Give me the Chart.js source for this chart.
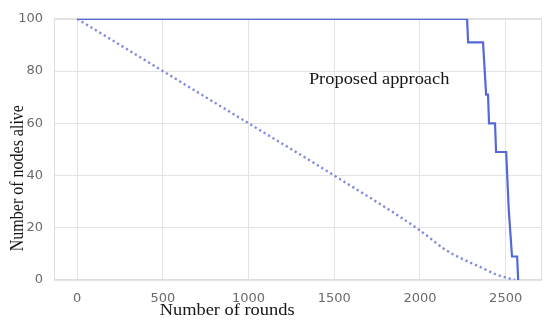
<!DOCTYPE html>
<html>
<head>
<meta charset="utf-8">
<script src="https://cdn.jsdelivr.net/npm/chart.js@4/dist/chart.umd.min.js"></script>
<style>
html,body{margin:0;padding:0;background:#fff;}
#wrap{width:550px;height:326px;position:relative;}
</style>
</head>
<body>
<div id="wrap"><canvas id="c" width="550" height="326"></canvas></div>
<script>
// Proposed approach (step curve), x = rounds, y = nodes alive
const proposedRounds = [0, 2275, 2281, 2368, 2386, 2397, 2403, 2438, 2444, 2503, 2518, 2537, 2567, 2573];
const proposedAlive  = [100, 100, 91, 91, 71, 71, 60, 60, 49, 49, 27, 9, 9, 0];
// Comparison protocol (dotted line)
const baselineRounds = [0, 500, 1000, 1500, 2000, 2150, 2250, 2350, 2450, 2555];
const baselineAlive  = [100, 80, 60, 40, 19, 11.5, 8, 5, 2, 0];
const xTicks = [0, 500, 1000, 1500, 2000, 2500];
const yTicks = [0, 20, 40, 60, 80, 100];
const xTitle = "Number of rounds";
const yTitle = "Number of nodes alive";
const annotation = "Proposed approach";

const toPts = (xs, ys) => xs.map((x, i) => ({x: x, y: ys[i]}));

const SERIF = '"Liberation Serif", "Times New Roman", serif';

const framePlugin = {
  id: 'frame',
  beforeDatasetsDraw(chart) {
    const a = chart.chartArea, ctx = chart.ctx;
    ctx.save();
    ctx.strokeStyle = '#dedede';
    ctx.lineWidth = 1;
    ctx.strokeRect(a.left + 0.5, a.top + 0.5, a.right - a.left - 1, a.bottom - a.top - 1);
    ctx.restore();
  },
  afterDraw(chart) {
    const ctx = chart.ctx;
    const xs = chart.scales.x, ys = chart.scales.y;
    const stretch = 1.15;
    const hText = (txt, cx, cy, align) => {
      ctx.save();
      ctx.translate(cx, cy);
      ctx.scale(stretch, 1);
      ctx.textAlign = align;
      ctx.textBaseline = 'middle';
      ctx.fillText(txt, 0, 0);
      ctx.restore();
    };
    ctx.save();
    ctx.fillStyle = '#151515';
    ctx.font = '16px ' + SERIF;
    // x axis title
    hText(xTitle, xs.getPixelForValue(875), 311, 'center');
    // annotation
    hText(annotation, xs.getPixelForValue(1352), ys.getPixelForValue(76.5), 'left');
    // y axis title
    ctx.save();
    ctx.translate(18, ys.getPixelForValue(39));
    ctx.rotate(-Math.PI / 2);
    ctx.scale(1, stretch);
    ctx.textAlign = 'center';
    ctx.textBaseline = 'middle';
    ctx.fillText(yTitle, 0, 0);
    ctx.restore();
    ctx.restore();
  }
};

const tickFont = { family: '"DejaVu Sans", Verdana, sans-serif', size: 13 };

new Chart(document.getElementById('c'), {
  type: 'line',
  data: {
    datasets: [
      {
        label: 'Proposed approach',
        data: toPts(proposedRounds, proposedAlive),
        borderColor: '#5468dc',
        borderWidth: 2.2,
        pointRadius: 0,
        tension: 0,
        fill: false,
        clip: 0
      },
      {
        label: 'Baseline',
        data: toPts(baselineRounds, baselineAlive),
        borderColor: '#7f8ae0',
        borderWidth: 2.4,
        borderDash: [2.2, 3],
        pointRadius: 0,
        tension: 0.3,
        cubicInterpolationMode: 'monotone',
        fill: false,
        clip: 0
      }
    ]
  },
  options: {
    responsive: false,
    animation: false,
    events: [],
    layout: { padding: { top: 13, right: 8, left: 0, bottom: 0 } },
    plugins: { legend: { display: false }, tooltip: { enabled: false } },
    scales: {
      x: {
        type: 'linear',
        min: -135,
        max: 2712,
        afterFit: s => { s.height = 46; },
        afterBuildTicks: s => { s.ticks = xTicks.map(v => ({value: v})); },
        grid: { color: '#e3e3e3', lineWidth: 1, drawTicks: false },
        border: { display: false },
        ticks: {
          padding: 11,
          color: '#6a6a6a',
          font: tickFont,
          maxRotation: 0,
          callback: v => String(v)
        }
      },
      y: {
        type: 'linear',
        min: 0,
        max: 100,
        afterFit: s => { s.width = 54; },
        afterBuildTicks: s => { s.ticks = yTicks.map(v => ({value: v})); },
        grid: { color: '#e3e3e3', lineWidth: 1, drawTicks: false },
        border: { display: false },
        ticks: {
          padding: 11,
          color: '#6a6a6a',
          font: tickFont,
          callback: v => String(v)
        }
      }
    }
  },
  plugins: [framePlugin]
});
</script>
</body>
</html>
